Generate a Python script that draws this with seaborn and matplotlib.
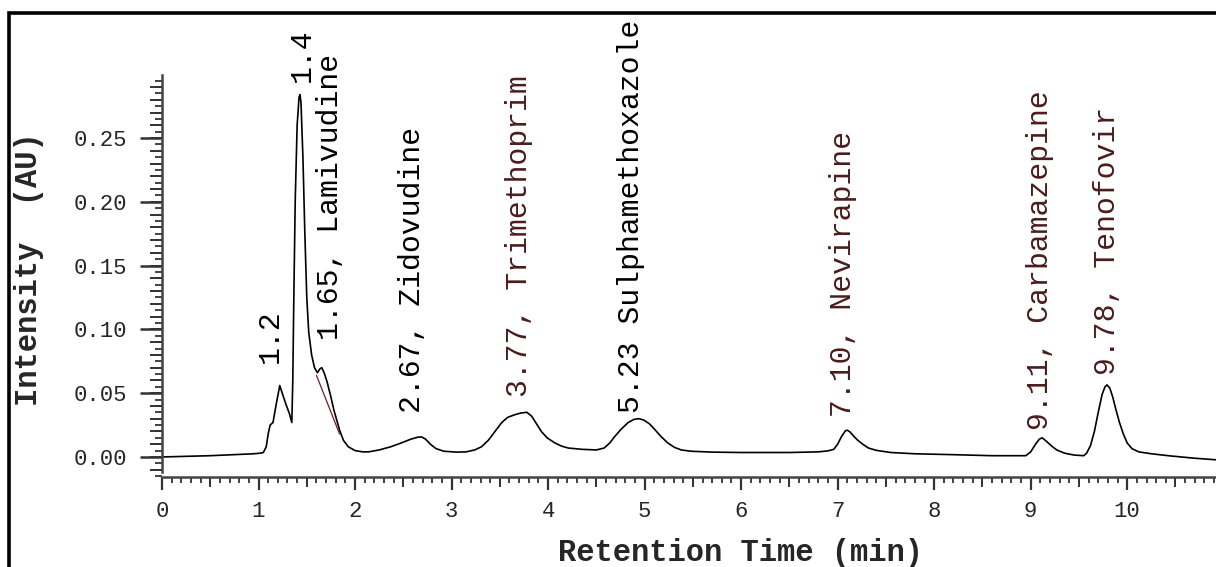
import matplotlib
matplotlib.use("Agg")
import matplotlib.pyplot as plt
from matplotlib.ticker import MultipleLocator, FixedLocator, NullFormatter
from matplotlib.patches import Rectangle
import numpy as np
import pandas as pd
import seaborn as sns

# ---------------- data ----------------
retention_time = [0.00, 0.50, 0.95, 1.02, 1.05, 1.08, 1.10, 1.12, 1.15, 1.18, 1.22, 1.25,
                  1.29, 1.32, 1.345, 1.355, 1.365, 1.38, 1.40, 1.42, 1.43, 1.44, 1.46,
                  1.48, 1.50, 1.52, 1.55, 1.58, 1.61, 1.635, 1.655, 1.68, 1.71, 1.75,
                  1.78, 1.81, 1.84, 1.88, 1.93, 2.00, 2.08, 2.14, 2.25, 2.37, 2.48, 2.58,
                  2.65, 2.69, 2.73, 2.78, 2.84, 2.92, 3.05, 3.15, 3.24, 3.31, 3.38, 3.45,
                  3.52, 3.58, 3.65, 3.72, 3.78, 3.83, 3.88, 3.93, 3.99, 4.07, 4.14, 4.21,
                  4.35, 4.50, 4.58, 4.64, 4.69, 4.76, 4.83, 4.89, 4.94, 4.99, 5.05, 5.10,
                  5.17, 5.24, 5.31, 5.38, 5.48, 5.70, 6.00, 6.50, 6.80, 6.90, 6.96, 7.00,
                  7.04, 7.08, 7.10, 7.13, 7.17, 7.21, 7.26, 7.32, 7.40, 7.55, 7.80, 8.20,
                  8.60, 8.95, 9.00, 9.05, 9.09, 9.12, 9.16, 9.21, 9.27, 9.35, 9.45, 9.55,
                  9.58, 9.62, 9.66, 9.70, 9.74, 9.77, 9.79, 9.82, 9.85, 9.88, 9.92, 9.96,
                  10.00, 10.05, 10.12, 10.25, 10.45, 10.70, 10.92]
intensity = [0.0000, 0.0010, 0.0025, 0.0030, 0.0035, 0.0080, 0.0180, 0.0250, 0.0270, 0.0400,
             0.0560, 0.0490, 0.0400, 0.0340, 0.0270, 0.0600, 0.1200, 0.2000, 0.2600, 0.2820,
             0.2840, 0.2780, 0.2350, 0.1750, 0.1250, 0.0980, 0.0800, 0.0700, 0.0660, 0.0690,
             0.0700, 0.0660, 0.0590, 0.0470, 0.0370, 0.0290, 0.0210, 0.0130, 0.0080, 0.0050,
             0.0040, 0.0040, 0.0055, 0.0080, 0.0110, 0.0140, 0.0155, 0.0157, 0.0140, 0.0100,
             0.0065, 0.0045, 0.0038, 0.0040, 0.0055, 0.0080, 0.0130, 0.0200, 0.0270, 0.0310,
             0.0330, 0.0345, 0.0350, 0.0320, 0.0260, 0.0200, 0.0150, 0.0110, 0.0085, 0.0070,
             0.0060, 0.0055, 0.0070, 0.0110, 0.0160, 0.0220, 0.0270, 0.0295, 0.0300, 0.0290,
             0.0260, 0.0220, 0.0160, 0.0110, 0.0075, 0.0055, 0.0045, 0.0038, 0.0035, 0.0035,
             0.0040, 0.0048, 0.0060, 0.0100, 0.0160, 0.0205, 0.0210, 0.0195, 0.0160, 0.0130,
             0.0100, 0.0070, 0.0052, 0.0035, 0.0025, 0.0018, 0.0010, 0.0010, 0.0040, 0.0100,
             0.0140, 0.0150, 0.0125, 0.0090, 0.0055, 0.0030, 0.0015, 0.0010, 0.0030, 0.0090,
             0.0200, 0.0350, 0.0490, 0.0550, 0.0565, 0.0540, 0.0470, 0.0380, 0.0270, 0.0180,
             0.0110, 0.0065, 0.0040, 0.0025, 0.0008, -0.0010, -0.0022]

# integration drop-line under the 1.65 peak
baseline_time = [1.60, 1.84]
baseline_intensity = [0.064, 0.018]

peak_labels = ["1.2", "1.4", "1.65, Lamivudine", "2.67, Zidovudine",
               "3.77, Trimethoprim", "5.23 Sulphamethoxazole", "7.10, Nevirapine",
               "9.11, Carbamazepine", "9.78, Tenofovir"]
label_time = [1.117, 1.448, 1.737, 2.585, 3.70, 4.86, 7.06, 9.10, 9.79]
label_height = [0.0737, 0.294, 0.0917, 0.0345, 0.047, 0.0345, 0.031, 0.021, 0.064]
label_colors = ["black", "black", "black", "black", "#4a1c1c", "black",
                "#4a1c1c", "#4a1c1c", "#4a1c1c"]

x_ticks = [0, 1, 2, 3, 4, 5, 6, 7, 8, 9, 10]
y_ticks = [0.00, 0.05, 0.10, 0.15, 0.20, 0.25]

# ---------------- style ----------------
sns.set_style("ticks")
plt.rcParams["font.family"] = ["Liberation Mono", "DejaVu Sans"]

W, H = 1216, 567
fig = plt.figure(figsize=(W / 100, H / 100), dpi=100)
ax_left, ax_bottom = 162 / W, (H - 477) / H
ax_w, ax_h = (W - 162) / W, (477 - 75) / H
ax = fig.add_axes([ax_left, ax_bottom, ax_w, ax_h])

df = pd.DataFrame({"Retention Time (min)": retention_time, "Intensity (AU)": intensity})
sns.lineplot(data=df, x="Retention Time (min)", y="Intensity (AU)", ax=ax,
             color="black", linewidth=1.2, estimator=None, sort=False,
             solid_joinstyle="round")
ax.plot(baseline_time, baseline_intensity, color="#6a2020", linewidth=0.9)

ax.set_xlim(0, 10.92)
ax.set_ylim(-0.0157, 0.2994)

for s in ["top", "right"]:
    ax.spines[s].set_visible(False)
for s in ["left", "bottom"]:
    ax.spines[s].set_color("#444444")
    ax.spines[s].set_linewidth(1.8)
ax.spines["left"].set_bounds(-0.012, 0.2994)

spine_col = "#333333"
ax.xaxis.set_major_locator(FixedLocator(x_ticks))
ax.xaxis.set_minor_locator(MultipleLocator(0.1))
ax.yaxis.set_major_locator(FixedLocator(y_ticks))
ax.yaxis.set_minor_locator(MultipleLocator(0.005))
ax.set_yticklabels([f"{v:.2f}" for v in y_ticks])
ax.set_xticklabels([str(v) for v in x_ticks])

ax.tick_params(axis="x", which="major", length=9.5, width=1.6, color=spine_col,
               labelsize=16, pad=8, direction="out")
ax.tick_params(axis="x", which="minor", length=4.5, width=1.3, color=spine_col, direction="out")
ax.tick_params(axis="y", which="major", length=16, width=1.8, color=spine_col,
               labelsize=16, pad=9, direction="out")
ax.tick_params(axis="y", which="minor", length=5, width=1.3, color=spine_col, direction="out")

# medium ticks (half-minute and 0.01 AU)
secx = ax.secondary_xaxis("bottom")
secx.xaxis.set_major_locator(FixedLocator([0.5 + i for i in range(11)]))
secx.xaxis.set_major_formatter(NullFormatter())
secx.tick_params(axis="x", length=7, width=1.4, color=spine_col)
secx.spines["bottom"].set_visible(False)
secy = ax.secondary_yaxis("left")
secy.yaxis.set_major_locator(MultipleLocator(0.01))
secy.yaxis.set_major_formatter(NullFormatter())
secy.tick_params(axis="y", length=9, width=1.4, color=spine_col)
secy.spines["left"].set_visible(False)

ax.set_xlabel("Retention Time (min)", fontsize=22, fontweight="bold")
ax.set_ylabel("Intensity  (AU)", fontsize=22, fontweight="bold")
ax.xaxis.set_label_coords((740 - 162) / (W - 162), -(553 - 477) / (477 - 75))
ax.xaxis.label.set_va("center")
ax.yaxis.set_label_coords((29 - 162) / (W - 162), (477 - 269) / (477 - 75))
ax.yaxis.label.set_va("center")

for txt, tx, ty, col in zip(peak_labels, label_time, label_height, label_colors):
    ax.text(tx, ty, txt, rotation=90, ha="center", va="bottom", fontsize=21.5,
            color=col, clip_on=False)

# outer frame of the figure (cropped at right and bottom)
frame = Rectangle((9 / W, -0.2), 1.2, (H - 13) / H + 0.2, transform=fig.transFigure,
                  fill=False, edgecolor="black", linewidth=2.6, clip_on=False)
fig.patches.append(frame)

fig.savefig("out.png", dpi=100)
